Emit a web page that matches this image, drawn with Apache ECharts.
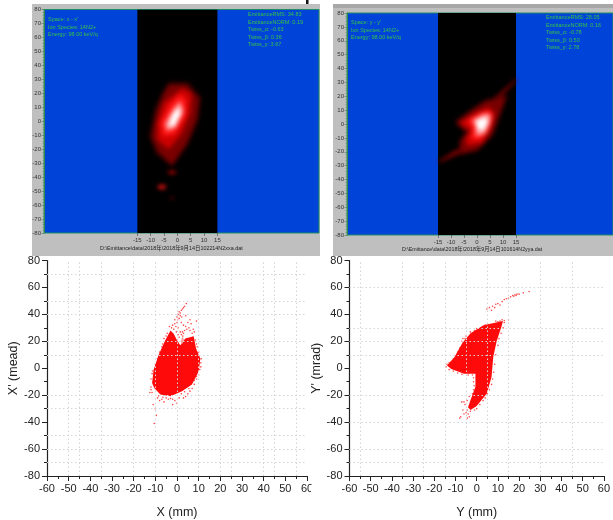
<!DOCTYPE html>
<html><head><meta charset="utf-8">
<style>
html,body{margin:0;padding:0;background:#fff;width:613px;height:520px;overflow:hidden}
.layer{position:absolute;left:0;top:0;width:613px;height:520px}
#base{filter:blur(.55px)}
#heat{filter:blur(2px)}
#low{filter:blur(.35px)}
</style>
<script src="https://cdn.jsdelivr.net/npm/echarts@6/dist/echarts.min.js"></script>
</head><body>
<div id="base" class="layer"></div>
<div id="heat" class="layer"></div>
<div id="low" class="layer"></div>
<script>
// ---- top monitor panels: text
const leftInfoX = ["Space: x - x'", "Ion Species: 14N2+", "Energy: 98.00 keV/q"];
const rightInfoX = ["EmittanceRMS: 34.83", "EmittanceNORM: 0.19", "Twiss_\u03b1: -0.63", "Twiss_\u03b2: 0.36", "Twiss_\u03b3: 3.67"];
const leftInfoY = ["Space: y - y'", "Ion Species: 14N2+", "Energy: 98.00 keV/q"];
const rightInfoY = ["EmittanceRMS: 28.05", "EmittanceNORM: 0.16", "Twiss_\u03b1: -0.78", "Twiss_\u03b2: 0.50", "Twiss_\u03b3: 2.78"];
const fileX = "D:\\Emittance\\data\\2018年\\2018年9月14日102214N2xxa.dat";
const fileY = "D:\\Emittance\\data\\2018年\\2018年9月14日101614N2yya.dat";
const topXTicks = [-15,-10,-5,0,5,10,15];
const topYTicks = [-80,-70,-60,-50,-40,-30,-20,-10,0,10,20,30,40,50,60,70,80];
const band = [-15, 15];

// ---- top monitor panels: intensity contours
const heatLevels = ['#3c0000','#7a0000','#cc0000','#ff1414','#ff9a9a','#ffffff'];
const xxHalo = [[-3.4,28],[4,28],[9,17],[8,1],[4,-17],[-2,-33],[-8,-23],[-10.6,-11],[-8.6,8],[-5.6,21]];
const xxOuter = [[-3,26],[3.6,26],[8,16],[7,0.9],[3.4,-15.8],[-2,-31],[-7,-22],[-9.6,-11],[-7.6,8],[-5,20]];
const xxMid = [[1.8,23.4],[5.4,19.8],[4.8,5.7],[1.6,-9],[-3.3,-20],[-7.6,-13],[-7.6,-1.5],[-5,13.5]];
const xxRed = [[1.1,19.5],[3.5,15],[3,3.3],[-1,-9.7],[-5.4,-11],[-6.4,-1.5],[-3,12]];
const xxPink = [[1,14.5],[2.4,7.4],[-0.6,-4.6],[-4,-7],[-4.6,-1.5],[-1.6,8.6]];
const xxWhite = [[0.4,10],[1.2,5],[-1.2,-3.4],[-3.2,-3.6],[-2,4.5]];
const xxSpotA = [[-4,-36.6],[-2,-35.2],[0,-36.6],[-2,-38]];
const xxSpotB = [[-7.8,-47],[-5.8,-45.2],[-3.8,-47],[-5.8,-48.8]];
const xxSpotC = [[-3,-55],[-2,-54],[-1,-55],[-2,-56]];

const yyStreakUp = [[4,16],[8,21],[14,31],[15,33],[15,31],[9,19],[6,16]];
const yyStreakDown = [[-15,-27],[-14,-27.5],[-5,-20],[-5,-17],[-8,-18.5]];
const yyHalo = [[-8.6,1.7],[-3.2,9.5],[3,17.5],[12,21],[9,5.3],[6.2,-8.5],[0.4,-19.5],[-7,-22.5],[-7,-12.7],[-4.4,-5.5],[-7,-2.2]];
const yyOuter = [[-7.8,1.7],[-2.9,8.5],[3.1,16],[11,19.5],[8.2,5.3],[5.6,-7.9],[0.1,-18.5],[-6.4,-21.5],[-6.4,-12.7],[-3.8,-5.5],[-6.4,-1.9]];
const yyMid = [[-6.4,1.2],[-0.8,7.8],[4.4,12.3],[6.9,7.7],[5.6,-3.1],[2.2,-13.5],[-3.5,-16],[-4.5,-11.5],[-2.4,-4.3],[-5.8,-0.7]];
const yyRed = [[-3.8,2.9],[1.2,8.5],[5,9.8],[6.2,4.1],[4.2,-5.5],[1,-11.8],[-2.4,-11],[-1.8,-3.1],[-3.2,0.5]];
const yyPink = [[-1.8,2.9],[2.4,7.2],[5.2,7.2],[5,0.5],[2.9,-7.4],[-0.5,-8.6],[-0.5,-1.9]];
const yyWhite = [[-0.5,2],[3.1,5],[4.2,2.2],[2.7,-4.4],[0.2,-3.8]];

// ---- lower scatter plots: dense core outlines
const coreX = [[-11.5,-11],[-10.8,-1.2],[-8.5,9.8],[-5.4,20.8],[-3,28],[-1.5,25.6],[0,20.8],[1.5,17],[3.8,22],[7.7,23.7],[8.8,14.7],[10.8,7.3],[10,-2.4],[6.9,-12],[2.3,-17],[-3,-20.8],[-7.7,-19.5],[-10.5,-14.7]];
const coreY = [[-14,2],[-10.6,8],[-6.7,19],[-2.9,26],[3.2,32],[12.4,35],[11.7,31],[9.4,20],[7.8,8],[7,-6.5],[4.8,-18.7],[0,-28],[-2.9,-31],[-4.1,-29],[-2.9,-23.5],[-0.6,-13.8],[-0.6,-4],[-6,-4],[-12,-0.5]];

// ---- lower scatter plots: sparse particles
const strayX = [[-2.5,30],[-2,32],[-1.5,29],[-1,33],[-1,36],[-0.5,31],[0,34],[0,38],[0.3,36],[0.5,40],[1,37],[1,42],[1.5,39],[1.5,41],[2,43],[2.2,38],[2.5,44],[3,45],[3.5,46],[4.3,48],[2,34],[3,32],[3.5,28],[2.5,27],[1.5,27],[2,25],[3,26],[2.7,24],[4,31],[5,34],[4.5,29],[5.5,30],[6,28],[6.5,33],[7,26],[7.5,29],[8,27],[9,35],[6,36],[4,39],[0.5,30],[-0.3,27],[0.5,25],[1,23],[-4.5,26],[-5,24],[-3.5,31],[-6,22],[-6.6,18],[-11,-27],[-10,-30],[-9.5,-35],[-10.5,-41],[-8,-24],[-6,-25],[-4,-23],[-2,-27],[-1,-24],[0,-26],[1,-22],[3,-22],[4,-21],[5,-19],[6,-17],[7,-15],[8,-12],[9,-8],[-12.5,-18],[-12,-16],[-12,-14],[-11.5,-18],[-9,-22],[-7,-23],[-5,-22],[10,-5],[11,1],[11,4],[11.2,7],[10.5,-1],[10,12],[9.6,10],[9,18],[9.3,16],[8.5,21],[-12,-8],[-11.5,-4],[-11.3,-2],[-10,3],[-9,7],[-8,12],[-7,16],[-2,-23],[-3,-22.5],[-6.5,-21.5],[-8.5,-20.5],[2,-19],[3.5,-17.5],[5.5,-15],[8,-9],[9,-6]];
const strayY = [[4.8,44],[6,45],[7.5,46],[9,47.5],[10,48],[11,47],[12,49.5],[13,51],[14,51.6],[15,52],[16,53],[17,54],[17.5,53.5],[18,54.5],[18.6,54],[19,55],[20,55],[22,56],[24.7,57],[7,43],[8.5,45],[15,36],[13,35.5],[12,36],[11,35],[10,34.5],[9,35],[8,33],[6,32.5],[4,32],[2,30],[0,29.5],[-1,28],[-3,27],[-5,24],[-6.5,22],[-5.5,22],[-7,20],[-8,15],[-9,12],[-11,7],[-12,5],[-13,4],[-14,3],[-14.5,1],[-13,-1],[-11,-2],[-9,-3.5],[-7,-4.5],[-4,-5],[-2,-5],[-1.5,-7],[-1.5,-10],[-1.2,-13],[-1.5,-16],[-2,-19],[-3.5,-21],[-4.5,-24],[-6,-25],[-5.5,-27],[-4.5,-31],[-5,-33],[-4,-34],[-3.5,-36],[-4.4,-37],[-7.5,-36],[-8,-37],[-6,-34],[-6.5,-31],[-7,-25],[-3,-32],[-1,-31],[0,-30],[1.5,-27],[3,-24],[4,-22],[5,-19],[6,-16],[7,-12],[7.5,-8],[8,-3],[8.5,3],[9,10],[10,17],[10.5,22],[11.5,26],[12.5,30],[13,34]];
const coreGap = [[1.8,20],[2.6,24],[3.2,21],[2.2,17.5]];

// ---- lower scatter plots: axes and reference lines
const lowXTicks = [-60,-50,-40,-30,-20,-10,0,10,20,30,40,50,60];
const lowYTicks = [-80,-60,-40,-20,0,20,40,60,80];
const gridXleft = [-50,-45,-35,-20,-10,0,10,20,25,40,45,55];
const gridYleft = [70,50,40,20,10,-20,-30,-50,-60,-70];
const gridXright = [-55,-35,-25,-15,-5,5,15,30,45];
const gridYright = [60,30,20,10,-20,-40,-60,-70];

function polySeries(polys, colors, xi, yi, z){
  return {type:'custom', xAxisIndex:xi, yAxisIndex:yi, z:z, silent:true, animation:false, clip:true,
    data: polys.map((p,i)=>[p[0][0],p[0][1],i]),
    encode:{x:0,y:1},
    renderItem:(params,api)=>{
      const i=api.value(2);
      return {type:'polygon', shape:{points:polys[i].map(c=>api.coord(c))}, style:{fill:colors[i]}};
    }};
}
function bandSeries(xi){
  return {type:'custom', xAxisIndex:xi, yAxisIndex:xi, z:2, silent:true, animation:false, clip:true,
    data:[[band[0],80,band[1],-80]], encode:{x:[0,2],y:[1,3]},
    renderItem:(params,api)=>{
      const a=api.coord([api.value(0),api.value(1)]), b=api.coord([api.value(2),api.value(3)]);
      return {type:'rect', shape:{x:a[0],y:a[1],width:b[0]-a[0],height:b[1]-a[1]}, style:{fill:'#000'}};
    }};
}
const topGrids = [
  {left:44, top:9.5, width:275, height:223.5, show:false},
  {left:347, top:13, width:266, height:222, show:false}
];
const topXRange = [[-50,53.1],[-50,52.3]];

function topAxes(show){
  return {
    xAxis: topXRange.map((r,i)=>({type:'value', gridIndex:i, min:r[0], max:r[1], show:show, position:'bottom',
      splitLine:{show:false}, axisLine:{show:false,onZero:false},
      axisTick:{show:true, length:3, lineStyle:{color:'#444',width:.6}, customValues:topXTicks},
      minorTick:{show:false},
      axisLabel:{show:true, customValues:topXTicks, fontSize:6, color:'#333', margin:4, fontFamily:'Liberation Sans', hideOverlap:false, showMinLabel:true, showMaxLabel:true}
    })),
    yAxis: topGrids.map((g,i)=>({type:'value', gridIndex:i, min:-80, max:80, interval:10, show:show,
      splitLine:{show:false}, axisLine:{show:true,onZero:false, lineStyle:{color:'#2f8a4c',width:1}},
      axisTick:{show:true, length:2.5, lineStyle:{color:'#3c7a50',width:.6}},
      minorTick:{show:true, splitNumber:5, length:1.5, lineStyle:{color:'#5a8a66',width:.5}},
      axisLabel:{customValues:topYTicks, fontSize:6, color:'#333', margin:3, fontFamily:'Liberation Sans'}
    }))
  };
}
function txt(lines,x,y0,dy){
  return lines.map((t,i)=>({type:'text', z:20, left:x, top:y0+i*dy-3.5,
    style:{text:t, fontSize:5.5, fill:'#37c24a', fontFamily:'Liberation Sans'}}));
}
const base = echarts.init(document.getElementById('base'),null,{renderer:'canvas'});
base.setOption(Object.assign({
  animation:false, backgroundColor:'transparent',
  grid: topGrids.map(g=>Object.assign({},g,{show:true, backgroundColor:'#0043d8', borderColor:'#1e8f66', borderWidth:1})),
  graphic:{elements:[
    {type:'rect', z:-10, silent:true, shape:{x:32,y:4,width:288,height:252}, style:{fill:'#bfbfbf'}},
    {type:'rect', z:-10, silent:true, shape:{x:333,y:4,width:280,height:252}, style:{fill:'#bfbfbf'}},
    {type:'rect', z:-9, silent:true, shape:{x:333,y:4,width:280,height:4}, style:{fill:'#a8a8a8'}},
    {type:'rect', z:-9, silent:true, shape:{x:306,y:0,width:2.5,height:4}, style:{fill:'#111'}},
    ...txt(leftInfoX,48,20,7.6), ...txt(rightInfoX,248,15,7.6),
    ...txt(leftInfoY,351,23,7.6), ...txt(rightInfoY,546,18,7.6),
    {type:'text', z:20, left:100, top:246, style:{text:fileX, fontSize:5.4, fill:'#222', fontFamily:'Liberation Sans, Noto Sans CJK SC'}},
    {type:'text', z:20, left:402, top:247, style:{text:fileY, fontSize:5.3, fill:'#222', fontFamily:'Liberation Sans, Noto Sans CJK SC'}}
  ]},
  series:[bandSeries(0),bandSeries(1)]
},topAxes(true)));

const heat = echarts.init(document.getElementById('heat'));
const m = heatLevels;
heat.setOption(Object.assign({
  animation:false, backgroundColor:'transparent',
  grid: topGrids,
  series:[
    polySeries([xxHalo,xxOuter,xxMid,xxRed,xxPink,xxWhite,xxSpotA,xxSpotB,xxSpotC],[m[0],m[1],m[2],m[3],m[4],m[5],m[2],m[3],m[1]],0,0,5),
    polySeries([yyStreakUp,yyStreakDown,yyHalo,yyOuter,yyMid,yyRed,yyPink,yyWhite],[m[1],m[1],m[0],m[1],m[2],m[3],m[4],m[5]],1,1,5)
  ]
},topAxes(false)));

const lowGrids = [
  {left:47, top:260.5, width:260, height:218.5},
  {left:349.5, top:260.5, width:261, height:220}
];
function lowX(name,i){return {type:'value', gridIndex:i, min:-60, max:60, interval:10, name:name, nameLocation:'middle', nameGap:30,
  nameTextStyle:{fontSize:12.5,color:'#222',fontFamily:'Liberation Sans'},
  splitLine:{show:false}, axisLine:{onZero:false,lineStyle:{color:'#222',width:1.2}},
  axisTick:{length:5,lineStyle:{color:'#222'}}, minorTick:{show:true,splitNumber:2,length:3,lineStyle:{color:'#222'}},
  axisLabel:{customValues:lowXTicks, fontSize:11,color:'#222',margin:7,fontFamily:'Liberation Sans',hideOverlap:false}};}
function lowY(name,i){return {type:'value', gridIndex:i, min:-80, max:80, interval:20, name:name, nameLocation:'middle', nameGap:i?20:18,
  nameTextStyle:{fontSize:12.5,color:'#222',fontFamily:'Liberation Sans'},
  splitLine:{show:false}, axisLine:{show:true,onZero:false,lineStyle:{color:'#222',width:1.2}},
  axisTick:{length:5,lineStyle:{color:'#222'}}, minorTick:{show:true,splitNumber:2,length:3,lineStyle:{color:'#222'}},
  axisLabel:{customValues:lowYTicks, fontSize:11,color:'#222',margin:7,fontFamily:'Liberation Sans'}};}
function refLines(xs,ys,i){
  return {type:'scatter', xAxisIndex:i, yAxisIndex:i, data:[], silent:true, z:1,
    markLine:{silent:true, symbol:'none', label:{show:false}, animation:false,
      lineStyle:{type:[1.5,2.5],color:'#d4d4d4',width:1},
      data:[...xs.map(v=>({xAxis:v})),...ys.map(v=>({yAxis:v}))]}};
}
const low = echarts.init(document.getElementById('low'));
low.setOption({
  animation:false, backgroundColor:'transparent',
  grid:lowGrids,
  xAxis:[lowX('X (mm)',0),lowX('Y (mm)',1)],
  yAxis:[lowY("X' (mead)",0),lowY("Y' (mrad)",1)],
  graphic:{elements:[{type:'rect', z:50, silent:true, shape:{x:311,y:485,width:4,height:20}, style:{fill:'#fff'}}]},
  series:[
    refLines(gridXleft,gridYleft,0),
    refLines(gridXright,gridYright,1),
    polySeries([coreX,coreGap],['#ff0a0a','#ff9a9a'],0,0,3),
    polySeries([coreY],['#ff0a0a'],1,1,3),
    {type:'scatter', xAxisIndex:0, yAxisIndex:0, z:4, symbolSize:1.6, silent:true, data:strayX, itemStyle:{color:'#ff1a1a',opacity:.8}},
    {type:'scatter', xAxisIndex:1, yAxisIndex:1, z:4, symbolSize:1.6, silent:true, data:strayY, itemStyle:{color:'#ff1a1a',opacity:.8}}
  ]
});
</script>
</body></html>
